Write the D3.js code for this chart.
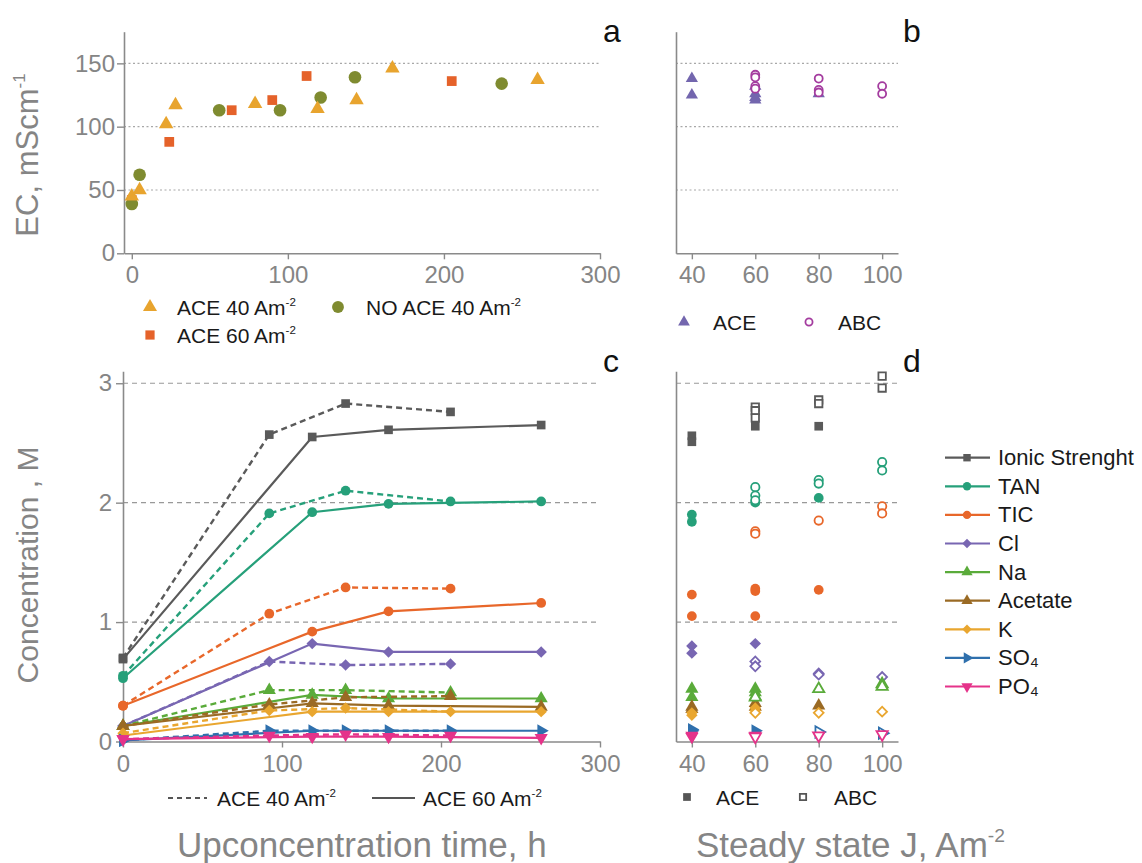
<!DOCTYPE html>
<html>
<head>
<meta charset="utf-8">
<script src="https://cdn.jsdelivr.net/npm/d3@7"></script>
<style>
  body { margin: 0; background: #fff; }
  svg { font-family: "Liberation Sans", Arial, sans-serif; }
</style>
</head>
<body>
<svg id="chart" width="1142" height="863"></svg>
<script>
"use strict";

// === a: EC vs upconcentration time [h, mS/cm] ===
const ecAce40 = [[0,45],[5,50],[22,102],[28,117],[79,118],[119,114],[144,121],[167,146],[260,137]];
const ecAce60 = [[0,42],[24,88],[64,113],[90,121],[112,140],[205,136]];
const ecNoAce40 = [[0,39],[5,62],[56,113],[95,113],[121,123],[143,139],[237,134]];

// === b: steady state EC vs J [A/m2, mS/cm] ===
const ecSteadyAce = [[40,138],[40,125],[60,132],[60,126],[60,123],[60,121],[80,126]];
const ecSteadyAbc = [[60,141],[60,139],[60,132],[60,130],[80,138],[80,129],[80,127],[100,132],[100,126]];

// === c: concentration vs time [h, M] ===
const time40 = [0, 92, 140, 206];
const time60 = [0, 119, 167, 263];
const species = ["Ionic Strenght", "TAN", "TIC", "Cl", "Na", "Acetate", "K", "SO₄", "PO₄"];

const ionic40 = [0.70, 2.57, 2.83, 2.76];
const ionic60 = [0.69, 2.55, 2.61, 2.65];
const tan40 = [0.55, 1.91, 2.10, 2.01];
const tan60 = [0.53, 1.92, 1.99, 2.01];
const tic40 = [0.30, 1.07, 1.29, 1.28];
const tic60 = [0.30, 0.92, 1.09, 1.16];
const cl40 = [0.13, 0.67, 0.64, 0.65];
const cl60 = [0.13, 0.82, 0.75, 0.75];
const na40 = [0.13, 0.43, 0.43, 0.41];
const na60 = [0.13, 0.39, 0.36, 0.36];
const acetate40 = [0.13, 0.31, 0.37, 0.38];
const acetate60 = [0.13, 0.32, 0.30, 0.29];
const k40 = [0.07, 0.26, 0.28, 0.25];
const k60 = [0.05, 0.25, 0.25, 0.25];
const so440 = [0.01, 0.09, 0.09, 0.09];
const so460 = [0.01, 0.09, 0.09, 0.09];
const po440 = [0.02, 0.05, 0.06, 0.05];
const po460 = [0.02, 0.04, 0.04, 0.03];

// === d: steady state concentration vs J [A/m2, M] ===
const ionicAce = [[40,2.56],[40,2.51],[60,2.64],[80,2.64]];
const ionicAbc = [[60,2.80],[60,2.77],[60,2.71],[80,2.86],[80,2.83],[100,3.06],[100,2.96]];
const tanAce = [[40,1.90],[40,1.84],[60,2.00],[80,2.04]];
const tanAbc = [[60,2.13],[60,2.06],[60,2.02],[80,2.19],[80,2.16],[100,2.34],[100,2.27]];
const ticAce = [[40,1.23],[40,1.05],[60,1.28],[60,1.26],[60,1.05],[80,1.27]];
const ticAbc = [[60,1.76],[60,1.74],[80,1.85],[100,1.97],[100,1.91]];
const clAce = [[40,0.80],[40,0.74],[60,0.82]];
const clAbc = [[60,0.67],[60,0.63],[80,0.57],[80,0.56],[100,0.54]];
const naAce = [[40,0.44],[40,0.37],[60,0.44],[60,0.41],[60,0.38]];
const naAbc = [[60,0.37],[80,0.44],[100,0.48],[100,0.46]];
const acetateAce = [[40,0.29],[40,0.27],[60,0.32],[60,0.29],[80,0.30]];
const acetateAbc = [];
const kAce = [[40,0.24],[40,0.22],[60,0.28],[60,0.26]];
const kAbc = [[60,0.24],[80,0.24],[100,0.25]];
const so4Ace = [[40,0.10],[40,0.09],[60,0.09]];
const so4Abc = [[80,0.08],[100,0.07]];
const po4Ace = [[40,0.05],[40,0.04],[60,0.05]];
const po4Abc = [[60,0.04],[80,0.05],[100,0.06]];

const series40 = [ionic40, tan40, tic40, cl40, na40, acetate40, k40, so440, po440];
const series60 = [ionic60, tan60, tic60, cl60, na60, acetate60, k60, so460, po460];
const steadyAce = [ionicAce, tanAce, ticAce, clAce, naAce, acetateAce, kAce, so4Ace, po4Ace];
const steadyAbc = [ionicAbc, tanAbc, ticAbc, clAbc, naAbc, acetateAbc, kAbc, so4Abc, po4Abc];

// === styles ===
const speciesColor = ["#5a5a5a", "#26a07a", "#e8672a", "#7866b2", "#5aab3a", "#9a6a24", "#e9a62f", "#2f70ad", "#e5338a"];
const speciesShape = ["square", "circle", "circle", "diamond", "up", "up", "diamond", "right", "down"];
const GRAY = "#858585";
const AXIS = "#8a8a8a";

const shapes = {
  square:  { t: d3.symbolSquare,   r: 0 },
  circle:  { t: d3.symbolCircle,   r: 0 },
  diamond: { t: d3.symbolSquare,   r: 45 },
  up:      { t: d3.symbolTriangle, r: 0 },
  right:   { t: d3.symbolTriangle, r: 90 },
  down:    { t: d3.symbolTriangle, r: 180 }
};

const svg = d3.select("#chart");

function marker(g, shape, cx, cy, size, color, open) {
  const s = shapes[shape];
  return g.append("path")
    .attr("d", d3.symbol().type(s.t).size(size)())
    .attr("transform", `translate(${cx},${cy}) rotate(${s.r})`)
    .attr("fill", open ? "#fff" : color)
    .attr("stroke", open ? color : "none")
    .attr("stroke-width", open ? 1.8 : 0);
}

// text with a trailing superscript, e.g. "Am" + "-2"
function supText(g, x, y, main, sup, size, color) {
  const t = g.append("text").attr("x", x).attr("y", y)
    .attr("font-size", size).attr("fill", color || "#1a1a1a").text(main);
  t.append("tspan").attr("dy", -size * 0.42).attr("font-size", size * 0.55).text(sup);
  return t;
}

function styleAxis(g) {
  g.selectAll(".domain").attr("stroke", AXIS).attr("stroke-width", 1.6);
  g.selectAll(".tick line").attr("stroke", AXIS).attr("stroke-width", 1.4);
  g.selectAll(".tick text").attr("fill", GRAY).attr("font-size", 24)
    .attr("font-family", '"Liberation Sans", Arial, sans-serif');
}

function gridLines(g, ys, values, x0, x1, dash, color) {
  g.selectAll(null).data(values).join("line")
    .attr("x1", x0).attr("x2", x1)
    .attr("y1", d => ys(d)).attr("y2", d => ys(d))
    .attr("stroke", color).attr("stroke-width", 1.1)
    .attr("stroke-dasharray", dash);
}

// === scales ===
const xa = d3.scaleLinear([-5, 300], [124, 600]);
const ya = d3.scaleLinear([0, 175], [253.3, 31.7]);
const xb = d3.scaleLinear([35, 105], [676, 898]);
const xc = d3.scaleLinear([0, 300], [123, 600]);
const yc = d3.scaleLinear([0, 3.1], [741.5, 371.3]);

// === panel a ===
const ga = svg.append("g");
gridLines(ga, ya, [50, 100, 150], xa(-5), xa(300), "2,2.5", "#a8a8a8");
ga.append("g").attr("transform", `translate(0,${ya(0)})`)
  .call(d3.axisBottom(xa).tickValues([0, 100, 200, 300]).tickSize(6).tickSizeOuter(0).tickPadding(7))
  .call(styleAxis);
ga.append("g").attr("transform", `translate(${xa(-5)},0)`)
  .call(d3.axisLeft(ya).tickValues([0, 50, 100, 150]).tickSize(7).tickSizeOuter(0).tickPadding(2))
  .call(styleAxis);
ecAce60.forEach(d => marker(ga, "square", xa(d[0]), ya(d[1]), 95, "#e5622a"));
ecNoAce40.forEach(d => marker(ga, "circle", xa(d[0]), ya(d[1]), 125, "#7f8b30"));
ecAce40.forEach(d => marker(ga, "up", xa(d[0]), ya(d[1]), 90, "#e8a42e"));

marker(ga, "up", 150, 307, 85, "#e8a42e");
supText(ga, 177, 315, "ACE 40 Am", "-2", 21);
marker(ga, "circle", 338, 307, 110, "#7f8b30");
supText(ga, 366, 315, "NO ACE 40 Am", "-2", 21);
marker(ga, "square", 150, 335, 85, "#e5622a");
supText(ga, 177, 343, "ACE 60 Am", "-2", 21);

// === panel b ===
const gb = svg.append("g");
gridLines(gb, ya, [50, 100, 150], xb(35), xb(105), "2,2.5", "#a8a8a8");
gb.append("g").attr("transform", `translate(0,${ya(0)})`)
  .call(d3.axisBottom(xb).tickValues([40, 60, 80, 100]).tickSize(6).tickSizeOuter(0).tickPadding(7))
  .call(styleAxis);
gb.append("g").attr("transform", `translate(${xb(35)},0)`)
  .call(d3.axisLeft(ya).tickValues([]).tickSizeOuter(0))
  .call(styleAxis);
ecSteadyAce.forEach(d => marker(gb, "up", xb(d[0]), ya(d[1]), 65, "#7366ae"));
ecSteadyAbc.forEach(d => marker(gb, "circle", xb(d[0]), ya(d[1]), 50, "#a43c9f", true));

marker(gb, "up", 684, 322, 60, "#7366ae");
gb.append("text").attr("x", 713).attr("y", 330).attr("font-size", 21).attr("fill", "#1a1a1a").text("ACE");
marker(gb, "circle", 809, 322, 40, "#a43c9f", true);
gb.append("text").attr("x", 838).attr("y", 330).attr("font-size", 21).attr("fill", "#1a1a1a").text("ABC");

// === panel c ===
const gc = svg.append("g");
gridLines(gc, yc, [1, 2, 3], xc(0), xc(300), "5,4", "#999");
gc.append("g").attr("transform", `translate(0,${yc(0)})`)
  .call(d3.axisBottom(xc).tickValues([0, 100, 200, 300]).tickSize(6).tickSizeOuter(0).tickPadding(7))
  .call(styleAxis);
gc.append("g").attr("transform", `translate(${xc(0)},0)`)
  .call(d3.axisLeft(yc).tickValues([0, 1, 2, 3]).tickFormat(d3.format("d"))
    .tickSize(7).tickSizeOuter(0).tickPadding(4))
  .call(styleAxis);

const line = d3.line().x(d => xc(d[0])).y(d => yc(d[1]));
species.forEach((name, i) => {
  const col = speciesColor[i];
  const pts40 = time40.map((t, j) => [t, series40[i][j]]);
  const pts60 = time60.map((t, j) => [t, series60[i][j]]);
  gc.append("path").datum(pts40).attr("d", line).attr("fill", "none")
    .attr("stroke", col).attr("stroke-width", 2.4).attr("stroke-dasharray", "6,4");
  gc.append("path").datum(pts60).attr("d", line).attr("fill", "none")
    .attr("stroke", col).attr("stroke-width", 2.2);
  const sz = speciesShape[i] === "diamond" ? 65 : 75;
  pts40.concat(pts60).forEach(d => marker(gc, speciesShape[i], xc(d[0]), yc(d[1]), sz, col));
});

gc.append("line").attr("x1", 168).attr("x2", 207).attr("y1", 798).attr("y2", 798)
  .attr("stroke", "#555").attr("stroke-width", 1.8).attr("stroke-dasharray", "5,4");
supText(gc, 217, 806, "ACE 40 Am", "-2", 21);
gc.append("line").attr("x1", 372).attr("x2", 415).attr("y1", 798).attr("y2", 798)
  .attr("stroke", "#555").attr("stroke-width", 1.8);
supText(gc, 423, 806, "ACE 60 Am", "-2", 21);

// === panel d ===
const gd = svg.append("g");
gridLines(gd, yc, [1, 2, 3], xb(35), xb(105), "5,4", "#999");
gd.append("g").attr("transform", `translate(0,${yc(0)})`)
  .call(d3.axisBottom(xb).tickValues([40, 60, 80, 100]).tickSize(6).tickSizeOuter(0).tickPadding(7))
  .call(styleAxis);
gd.append("g").attr("transform", `translate(${xb(35)},0)`)
  .call(d3.axisLeft(yc).tickValues([]).tickSizeOuter(0))
  .call(styleAxis);
species.forEach((name, i) => {
  const sz = speciesShape[i] === "diamond" ? 65 : 75;
  steadyAce[i].forEach(d => marker(gd, speciesShape[i], xb(d[0]), yc(d[1]), sz, speciesColor[i]));
});
species.forEach((name, i) => {
  const sz = speciesShape[i] === "diamond" ? 48 : 55;
  steadyAbc[i].forEach(d => marker(gd, speciesShape[i], xb(d[0]), yc(d[1]), sz, speciesColor[i], true));
});

marker(gd, "square", 687, 797, 60, "#555");
gd.append("text").attr("x", 716).attr("y", 805).attr("font-size", 21).attr("fill", "#1a1a1a").text("ACE");
marker(gd, "square", 803, 797, 40, "#555", true);
gd.append("text").attr("x", 834).attr("y", 805).attr("font-size", 21).attr("fill", "#1a1a1a").text("ABC");

// === species legend ===
const gl = svg.append("g");
species.forEach((name, i) => {
  const y = 457.7 + i * 28.6;
  gl.append("line").attr("x1", 945).attr("x2", 990).attr("y1", y).attr("y2", y)
    .attr("stroke", speciesColor[i]).attr("stroke-width", 2.2);
  marker(gl, speciesShape[i], 967, y, speciesShape[i] === "diamond" ? 45 : 55, speciesColor[i]);
  gl.append("text").attr("x", 998).attr("y", y + 7.5).attr("font-size", 22)
    .attr("fill", "#1a1a1a").text(name);
});

// === panel letters ===
[["a", 603, 42], ["b", 903, 42], ["c", 603, 372], ["d", 903, 372]].forEach(p => {
  svg.append("text").attr("x", p[1]).attr("y", p[2]).attr("font-size", 32)
    .attr("fill", "#111").text(p[0]);
});

// === axis titles ===
const ecTitle = svg.append("text").attr("transform", "translate(38,155) rotate(-90)")
  .attr("text-anchor", "middle").attr("font-size", 31).attr("fill", GRAY).text("EC, mScm");
ecTitle.append("tspan").attr("dy", -13).attr("font-size", 17).text("-1");
svg.append("text").attr("transform", "translate(38,565) rotate(-90)")
  .attr("text-anchor", "middle").attr("font-size", 30).attr("fill", GRAY).text("Concentration , M");
svg.append("text").attr("x", 177).attr("y", 857).attr("font-size", 35).attr("fill", GRAY)
  .text("Upconcentration time, h");
supText(svg, 696, 857, "Steady state J, Am", "-2", 35, GRAY);
</script>
</body>
</html>
